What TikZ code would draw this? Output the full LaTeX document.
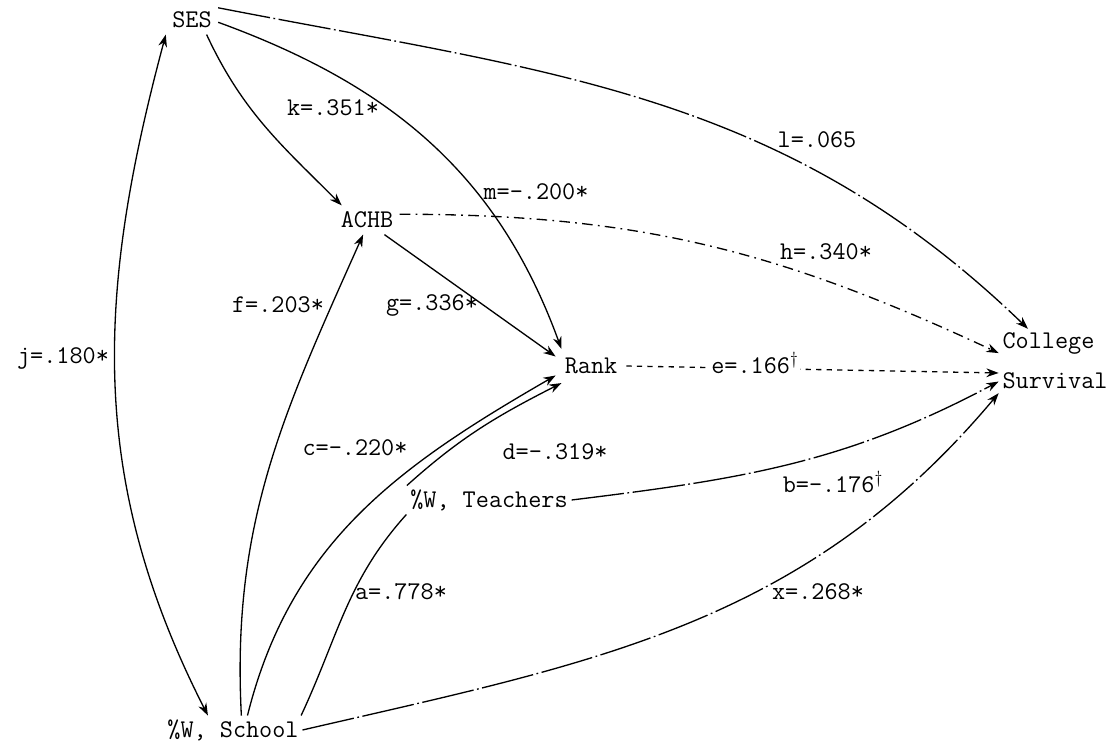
\documentclass[tikz,border=0pt]{standalone}
\usetikzlibrary{arrows.meta}

\begin{document}
\begin{tikzpicture}[x=0.02cm,y=0.02cm,>={Stealth[length=7pt,width=5pt]},
  var/.style={font=\ttfamily\fontsize{14.5}{23}\selectfont},
  coef/.style={font=\ttfamily\fontsize{14.5}{23}\selectfont,inner sep=1pt},
  eff/.style={->,line width=0.75pt},
  broken/.style={dash pattern=on 30pt off 2pt on 1pt off 2pt}]
\useasboundingbox (0,0) rectangle (1115,748);
% variables
\node[var,inner sep=3.5pt] (ses) at (192,728) {SES};
\node[var,inner sep=3.5pt] (achb) at (367,528) {ACHB};
\node[var,inner sep=5pt] (rank) at (591,382) {Rank};
\node[var,inner sep=2pt,align=left] (coll) at (1055,387) {College\\Survival};
\node[var,inner sep=2pt] (teach) at (489,248) {\%W, Teachers};
\node[var,inner sep=2pt] (school) at (233,18) {\%W, School};
% effects
\draw[eff,<->](ses.south west) to[out=255,in=117] (school.150);
\draw[eff](ses.-45) to[out=-65,in=135] (achb.150);
\draw[eff](ses.-5) to[out=-20,in=110] (rank.150);
\draw[eff,broken](ses.25) to[out=-11,in=136] (coll.130);
\draw[eff,dash pattern=on 6pt off 3pt on 1pt off 3pt](achb.10) to[out=0,in=155] (coll.172);
\draw[eff](achb.-40) -- (rank.165);
\draw[eff](school.60) to[out=93,in=-114] (achb.255);
\draw[eff](school.45) to[out=76,in=-150] (rank.195);
\draw[line width=0.75pt](school.12) to[out=65,in=-132] (teach.south west);
\draw[eff](teach.170) to[out=42,in=-153] (rank.210);
\draw[eff,dashed](rank.east) -- (coll.192);
\draw[eff,broken](teach.east) to[out=7,in=-152] (coll.200);
\draw[eff,broken](school.east) to[out=13,in=-130] (coll.south west);
% coefficients
\node[coef] (ck) at (333,640) {k=.351*};
\node[coef] (cm) at (536,556) {m=-.200*};
\node[coef] (cl) at (817,608) {l=.065};
\node[coef] (ch) at (826,496) {h=.340*};
\node[coef] (cf) at (278,443) {f=.203*};
\node[coef] (cg) at (432,443) {g=.336*};
\node[coef] (cj) at (63,390) {j=.180*};
\node[coef,fill=white] (ce) at (755,385) {e=.166$^\dagger$};
\node[coef] (cc) at (355,300) {c=-.220*};
\node[coef] (cd) at (555,296) {d=-.319*};
\node[coef] (cb) at (833,266) {b=-.176$^\dagger$};
\node[coef] (ca) at (401,156) {a=.778*};
\node[coef] (cx) at (818,156) {x=.268*};
\end{tikzpicture}
\end{document}
